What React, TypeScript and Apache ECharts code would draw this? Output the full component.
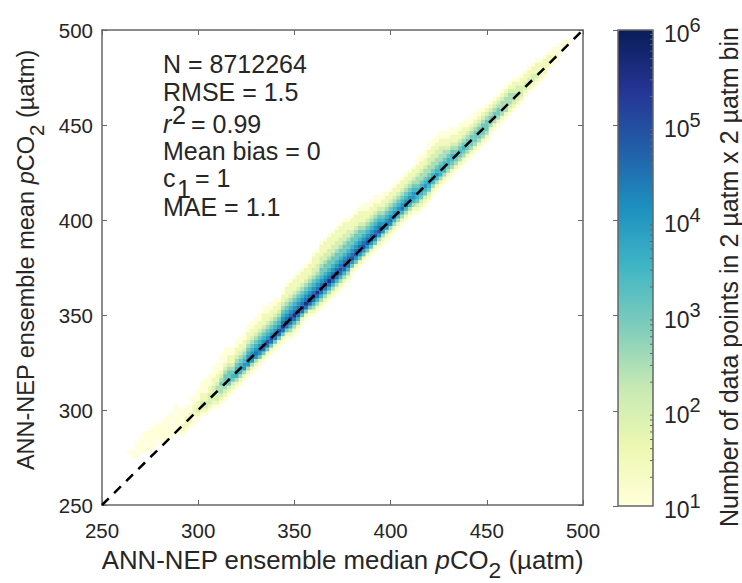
import React, { useEffect, useRef } from "react";
import * as echarts from "echarts";

// Reading of the 2 µatm x 2 µatm density picture.
// Each column: x bin centre, y centre of its lowest cell, and one digit per cell going upward.
// Digit d means log10(count) = 1 + d / 2; "." is an empty cell.
const columnX = [
  264, 266, 268, 270, 272, 274, 276, 278, 280, 282, 284, 286, 288, 290, 292, 294, 296, 298, 300, 302,
  304, 306, 308, 310, 312, 314, 316, 318, 320, 322, 324, 326, 328, 330, 332, 334, 336, 338, 340, 342,
  344, 346, 348, 350, 352, 354, 356, 358, 360, 362, 364, 366, 368, 370, 372, 374, 376, 378, 380, 382,
  384, 386, 388, 390, 392, 394, 396, 398, 400, 402, 404, 406, 408, 410, 412, 414, 416, 418, 420, 422,
  424, 426, 428, 430, 432, 434, 436, 438, 440, 442, 444, 446, 448, 450, 452, 454, 456, 458, 460, 462,
  464, 466, 468, 470, 472, 474, 476, 478, 480, 482, 484, 486, 488, 490, 492,
];
const columnLow = [
  278, 276, 276, 278, 278, 280, 280, 282, 284, 284, 284, 286, 288, 288, 288, 290, 292, 294, 296, 298,
  298, 300, 302, 302, 304, 306, 308, 310, 312, 314, 316, 318, 320, 322, 324, 326, 328, 330, 332, 334,
  336, 338, 338, 340, 342, 346, 348, 350, 350, 352, 354, 356, 358, 360, 362, 364, 366, 368, 372, 374,
  376, 378, 380, 382, 384, 386, 388, 390, 392, 394, 396, 398, 400, 402, 404, 404, 406, 408, 410, 414,
  416, 418, 420, 422, 424, 426, 428, 430, 432, 434, 436, 438, 440, 442, 446, 448, 450, 452, 454, 456,
  458, 460, 462, 466, 468, 470, 472, 474, 476, 480, 482, 484, 488, 490, 492,
];
const columnLevels = [
  "0", "00", "0.00", "0000", "00.000", "00000", "000000", "0.0000", "00000", "000000",
  "0000000", "0000.00", "00000.00", "0000000", "0110000", "0111000", "011100.0", "0011100", "01211000", "012211000",
  "0122110000", "0122211000", "01222211000", "012233211000", "0123343210000", "01234443210000", "0124544321100", "012454321100", "0135654321100", "0135654321100",
  "0136654321100", "01367654321100", "01367654321100", "01367654321100", "01467654321100", "014786543211100", "01478654321100", "01478654321100", "01478654321100", "0147865432110",
  "01479765432110", "014797654321110", "0135797654321110", "0135797654321110", "0135797654321110", "014797654321110", "014797654321110", "014797654321110", "01357976543221110", "01357976543221110",
  "013579765443221110", "013579765443221110", "013579765443221110", "013579765443221110", "013579765443221110", "013578765443221110", "013578765443221110", "01357876544322110", "0146876544321110", "0146876544321110",
  "0146876544321110", "0146876543211100", "014687654321100", "014687654321100", "014687654321100", "01368765432100", "01367654321100", "0136765432110", "0136765432110", "0135765432110",
  "0135765432110", "0135765432110", "0135765432110", "0135665432110", "0135665432110", "012456543321100", "012456543321100", "012456543321100", "0124565433221100", "013565433221100",
  "013565433221100", "013555433221100", "01355543321100", "0134554321100", "0134554321100", "013454321100", "013454321100", "013454321100", "01344432100", "01344432100",
  "01344432100", "01344432100", "0134443210", "0134443210", "013443210", "013443210", "013443210", "013333210", "013333210", "012333210",
  "012332110", "01232210", "01222110", "0122110", "0122110", "0122110", "0121110", "011110", "011110", "01110",
  "01100", "0100", "000", "000", "00",
];

const diagonal = [[250, 250], [500, 500]];
const axisTicks = { min: 250, max: 500, interval: 50 };
const colorStops = ["#ffffd9", "#edf8b1", "#c7e9b4", "#7fcdbb", "#41b6c4", "#1d91c0", "#225ea8", "#253494", "#081d58"];
const colorbarMinorTicks = [
  20, 30, 40, 50, 60, 70, 80, 90,
  200, 300, 400, 500, 600, 700, 800, 900,
  2000, 3000, 4000, 5000, 6000, 7000, 8000, 9000,
  20000, 30000, 40000, 50000, 60000, 70000, 80000, 90000,
  200000, 300000, 400000, 500000, 600000, 700000, 800000, 900000,
];

const FONT = '"Liberation Sans", Arial, sans-serif';
const INK = "#262626";
const AXIS = "#666666";
const LABEL_SIZE = 20.5;
const STAT_SIZE = 25;

const cells: number[][] = [];
columnX.forEach((x, i) => {
  columnLevels[i].split("").forEach((ch, k) => {
    if (ch !== ".") cells.push([x, columnLow[i] + k * 2, 1 + Number(ch) / 2]);
  });
});

const titleRich = (size: number) => ({
  t: { fontSize: size, fontFamily: FONT, color: INK },
  i: { fontSize: size, fontFamily: FONT, color: INK, fontStyle: "italic" as const },
  sub: { fontSize: size - 3, fontFamily: FONT, color: INK, padding: [20, 0, 0, 0], verticalAlign: "bottom" as const },
});

const statText = (text: string, x: number, y: number, fontStyle = "normal") => ({
  type: "text",
  x,
  y,
  z: 50,
  style: { text, fill: INK, font: `${fontStyle} ${STAT_SIZE}px ${FONT}`, verticalAlign: "middle", align: "left" },
});

const vTitle = (text: string, x: number, y: number, size: number) => ({
  type: "text",
  x,
  y,
  rotation: Math.PI / 2,
  z: 50,
  style: { text, rich: titleRich(size), fill: INK, font: `${size}px ${FONT}`, align: "center", verticalAlign: "middle" },
});

export default function App() {
  const ref = useRef<HTMLDivElement>(null);
  useEffect(() => {
    const chart = echarts.init(ref.current!, undefined, { renderer: "svg" });
    const plotAxis = {
      type: "value" as const,
      gridIndex: 0,
      ...axisTicks,
      splitLine: { show: false },
      axisLine: { show: true, onZero: false, lineStyle: { color: AXIS, width: 1.5 } },
      axisTick: { show: true, inside: true, length: 5, lineStyle: { color: AXIS } },
    };
    chart.setOption({
      animation: false,
      backgroundColor: "#ffffff",
      textStyle: { fontFamily: FONT },
      grid: [
        { left: 102, top: 30, width: 481, height: 475, outerBoundsMode: "none" },
        { left: 618, top: 30, width: 35, height: 476, outerBoundsMode: "none" },
      ],
      xAxis: [
        {
          ...plotAxis,
          position: "bottom",
          axisLabel: { color: INK, fontSize: LABEL_SIZE, fontFamily: FONT, margin: 15 },
          name: "{t|ANN-NEP ensemble median }{i|p}{t|CO}{sub|2}{t| (µatm)}",
          nameLocation: "middle",
          nameGap: 33,
          nameTextStyle: { rich: titleRich(25.8) },
        },
        { ...plotAxis, position: "top", axisLabel: { show: false } },
        { type: "value", gridIndex: 1, min: 0, max: 1, show: false },
      ],
      yAxis: [
        {
          ...plotAxis,
          position: "left",
          axisLabel: { color: INK, fontSize: LABEL_SIZE, fontFamily: FONT, margin: 9 },
        },
        { ...plotAxis, position: "right", axisLabel: { show: false } },
        {
          type: "log",
          gridIndex: 1,
          logBase: 10,
          min: 10,
          max: 1000000,
          position: "right",
          splitLine: { show: false },
          axisLine: { show: false },
          axisTick: { show: true, inside: true, length: 5, lineStyle: { color: AXIS } },
          axisLabel: {
            margin: 11,
            formatter: (v: number) => `{b|10}{s|${Math.round(Math.log10(v))}}`,
            rich: {
              b: { fontSize: 23, fontFamily: FONT, color: INK, padding: [8, 0, 0, 0] },
              s: { fontSize: 20, fontFamily: FONT, color: INK, padding: [0, 0, 8, 0], verticalAlign: "top" },
            },
          },
        },
      ],
      visualMap: {
        type: "continuous",
        seriesIndex: 0,
        dimension: 2,
        min: 1,
        max: 6,
        left: 618,
        top: 30,
        itemWidth: 35,
        itemHeight: 476,
        padding: 0,
        calculable: false,
        text: ["", ""],
        showLabel: false,
        inRange: { color: colorStops },
        z: 1,
      },
      graphic: [
        {
          type: "rect",
          shape: { x: 618, y: 30, width: 35, height: 476 },
          style: { fill: "none", stroke: AXIS, lineWidth: 1.5 },
          z: 100,
        },
        statText("N = 8712264", 163, 64),
        statText("RMSE = 1.5", 163, 92),
        statText("r", 163, 124, "italic"),
        statText("2", 172, 115),
        statText("= 0.99", 191, 124),
        statText("Mean bias = 0", 163, 151),
        statText("c", 163, 178),
        statText("1", 177, 189),
        statText("= 1", 195, 178),
        statText("MAE = 1.1", 163, 207),
        vTitle("{t|ANN-NEP ensemble mean }{i|p}{t|CO}{sub|2}{t| (µatm)}", 26, 260, 23.5),
        vTitle("{t|Number of data points in 2 µatm x 2 µatm bin}", 729, 277, 25),
      ],
      series: [
        {
          type: "custom",
          xAxisIndex: 0,
          yAxisIndex: 0,
          clip: true,
          data: cells,
          encode: { x: 0, y: 1 },
          renderItem: (_p: any, api: any) => {
            const c = api.coord([api.value(0), api.value(1)]);
            const s = api.size([2, 2]);
            return {
              type: "rect",
              shape: { x: c[0] - s[0] / 2, y: c[1] - s[1] / 2, width: s[0] + 0.3, height: s[1] + 0.3 },
              style: { fill: api.visual("color") },
            };
          },
          z: 2,
        },
        {
          type: "line",
          xAxisIndex: 0,
          yAxisIndex: 0,
          data: diagonal,
          symbol: "none",
          lineStyle: { color: "#000000", width: 2.5, type: [9.5, 7.5] },
          z: 3,
        },
        {
          type: "custom",
          xAxisIndex: 2,
          yAxisIndex: 2,
          data: colorbarMinorTicks.map((v) => [1, v]),
          encode: { x: 0, y: 1 },
          renderItem: (_p: any, api: any) => {
            const c = api.coord([api.value(0), api.value(1)]);
            return {
              type: "line",
              shape: { x1: c[0], y1: c[1], x2: c[0] - 3, y2: c[1] },
              style: { stroke: AXIS, lineWidth: 1 },
            };
          },
          z: 10,
        },
      ],
    });
    return () => chart.dispose();
  }, []);
  return <div ref={ref} style={{ position: "fixed", left: 0, top: 0, width: 742, height: 583 }} />;
}
